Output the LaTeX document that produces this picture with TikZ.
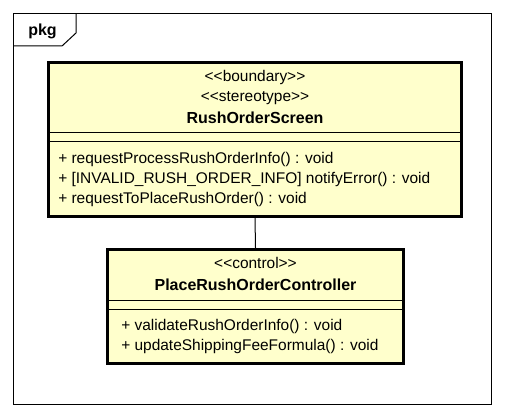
\documentclass[tikz,border=0pt]{standalone}
\usepackage{fontspec}
\newfontfamily\umlfont{Liberation Sans}
\definecolor{classfill}{RGB}{255,255,204}
\tikzset{
  classbox/.style={draw, line width=2.25pt, fill=classfill, inner sep=0pt},
  sepline/.style={line width=0.75pt},
  umltext/.style={inner sep=0.75pt, font=\umlfont\fontsize{11.6pt}{13pt}\selectfont},
  umlname/.style={inner sep=0.75pt, font=\umlfont\bfseries\fontsize{12pt}{13pt}\selectfont}
}
\begin{document}
\begin{tikzpicture}[x=0.75pt,y=0.75pt,yscale=-1,xscale=1]
\useasboundingbox (0,0) rectangle (505,417);

%Shape: Package frame
\draw [line width=0.75pt] (13.5,13.5) rectangle (491.5,404);
\draw [line width=0.75pt] (13.5,46) -- (62,46) -- (76,33) -- (76,13.5);
% Text Node
\draw (27,31) node (pkg) [anchor=west][umlname] {pkg};

%Shape: Class RushOrderScreen
\node (screen) [classbox, minimum width=309.75pt, minimum height=115.5pt] at (255,139.5) {};
\draw [sepline] (47,132) -- (463,132);
\draw [sepline] (47,141) -- (463,141);
%Shape: Class PlaceRushOrderController
\node (ctrl) [classbox, minimum width=222pt, minimum height=85.5pt] at (255.5,306.5) {};
\draw [sepline] (106,300) -- (405,300);
\draw [sepline] (106,309) -- (405,309);

%Connector
\draw [line width=0.75pt] (screen.south) -- (ctrl.north);

% Text Node
\draw (255,78) node (sBoundary) [umltext] {<<boundary>>};
\draw (255,98) node (sStereo) [umltext] {<<stereotype>>};
\draw (255,118) node (sName) [umlname] {RushOrderScreen};
\draw (57,159) node (sOpA) [anchor=west][umltext] {+ requestProcessRushOrderInfo() : void};
\draw (57,179) node (sOpB) [anchor=west][umltext] {+ [INVALID\_RUSH\_ORDER\_INFO] notifyError() : void};
\draw (57,199) node (sOpC) [anchor=west][umltext] {+ requestToPlaceRushOrder() : void};
% Text Node
\draw (255.5,263) node (cControl) [umltext] {<<control>>};
\draw (255.5,285) node (cName) [umlname] {PlaceRushOrderController};
\draw (120,326) node (cOpA) [anchor=west][umltext] {+ validateRushOrderInfo() : void};
\draw (120,346) node (cOpB) [anchor=west][umltext] {+ updateShippingFeeFormula() : void};

\end{tikzpicture}
\end{document}
